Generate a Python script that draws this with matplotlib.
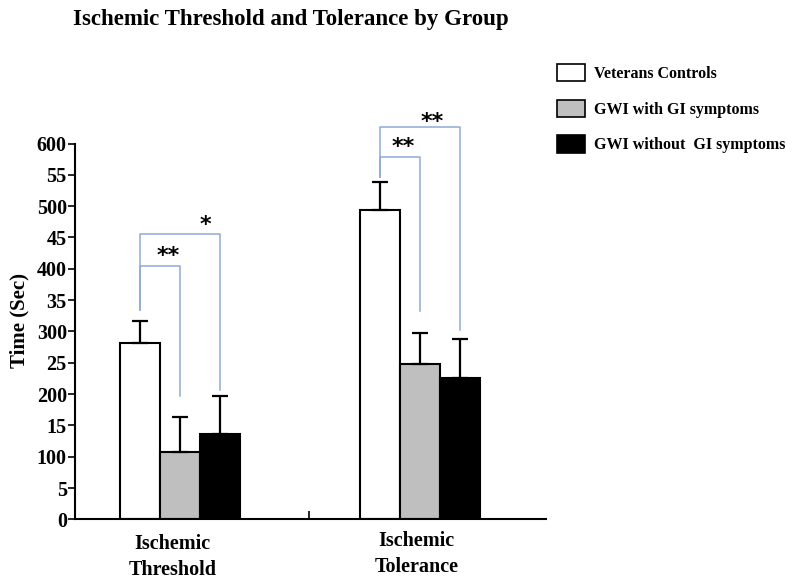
import numpy as np
import matplotlib.pyplot as plt
from matplotlib.patches import Patch

plt.rcParams['font.family'] = ['Liberation Serif', 'DejaVu Serif']
plt.rcParams['font.weight'] = 'bold'

# data
groups = ['Ischemic\nThreshold', 'Ischemic\nTolerance']
series = ['Veterans Controls', 'GWI with GI symptoms', 'GWI without  GI symptoms']
controls = [281, 494]
gwi_gi = [107, 248]
gwi_no_gi = [136, 226]
controls_err = [35, 45]
gwi_gi_err = [57, 50]
gwi_no_gi_err = [61, 62]
colors = ['white', '#bfbfbf', 'black']

ytick_vals = np.arange(0, 601, 50)
ytick_labels = ['0', '5', '100', '15', '200', '25', '300', '35', '400', '45', '500', '55', '600']

fig = plt.figure(figsize=(8, 5.81), dpi=100)
ax = fig.add_axes([0.094, 0.106, 0.589, 0.647])

x = np.arange(len(groups))
w = 1 / 6
means = [controls, gwi_gi, gwi_no_gi]
errs = [controls_err, gwi_gi_err, gwi_no_gi_err]
for i in range(3):
    ax.bar(x + (i - 1) * w, means[i], w, color=colors[i], edgecolor='black',
           linewidth=1.5, zorder=2)
    ax.errorbar(x + (i - 1) * w, means[i], yerr=[np.zeros(2), errs[i]], fmt='none',
                ecolor='black', elinewidth=1.6, capsize=6, capthick=1.6, zorder=3)

# significance brackets
bcol = '#8fa9d8'
def bracket(x0, x1, y_top, y0, y1, label, lx, ly):
    ax.plot([x0, x0, x1, x1], [y0, y_top, y_top, y1], color=bcol, lw=1.1,
            clip_on=False, zorder=1)
    ax.text(lx, ly, label, ha='center', va='center', fontsize=16,
            family='DejaVu Sans', fontweight='bold', clip_on=False)

bracket(-w, 0, 405, 334, 197, '**', -0.05, 420)
bracket(-w, w, 456, 334, 207, '*', 0.104, 470)
bracket(1 - w, 1, 579, 547, 332, '**', 0.929, 595)
bracket(1 - w, 1 + w, 627, 547, 302, '**', 1.049, 634)

ax.set_xlim(-0.4375, 1.525)
ax.set_ylim(0, 600)
ax.set_yticks(ytick_vals)
ax.set_yticklabels(ytick_labels, fontsize=14.5, fontweight='bold')
ax.set_xticks([0.5375])
ax.set_xticklabels([''])
ax.tick_params(axis='x', direction='in', length=6, width=1.2)
ax.tick_params(axis='y', direction='out', length=5, width=1.2, pad=1)
for s in ['top', 'right']:
    ax.spines[s].set_visible(False)
for s in ['left', 'bottom']:
    ax.spines[s].set_linewidth(1.5)

ax.text(-0.033, -0.04, groups[0], transform=ax.get_xaxis_transform(), ha='center',
        va='top', fontsize=14.5, fontweight='bold', linespacing=1.4)
ax.text(0.983, -0.03, groups[1], transform=ax.get_xaxis_transform(), ha='center',
        va='top', fontsize=14.5, fontweight='bold', linespacing=1.4)

ax.set_ylabel('Time (Sec)', fontsize=15, fontweight='bold')
ax.yaxis.set_label_coords(-0.098, 0.53)

fig.text(0.364, 0.967, 'Ischemic Threshold and Tolerance by Group', ha='center',
         va='center', fontsize=16.5, fontweight='bold')

handles = [Patch(facecolor=c, edgecolor='black', linewidth=1.2) for c in colors]
fig.legend(handles, series, loc='upper left', bbox_to_anchor=(0.696, 0.89),
           frameon=False, fontsize=11.5, handlelength=1.75, handleheight=1.3,
           labelspacing=1.1, handletextpad=0.6, borderaxespad=0, borderpad=0)

fig.savefig('out.png', dpi=100)
